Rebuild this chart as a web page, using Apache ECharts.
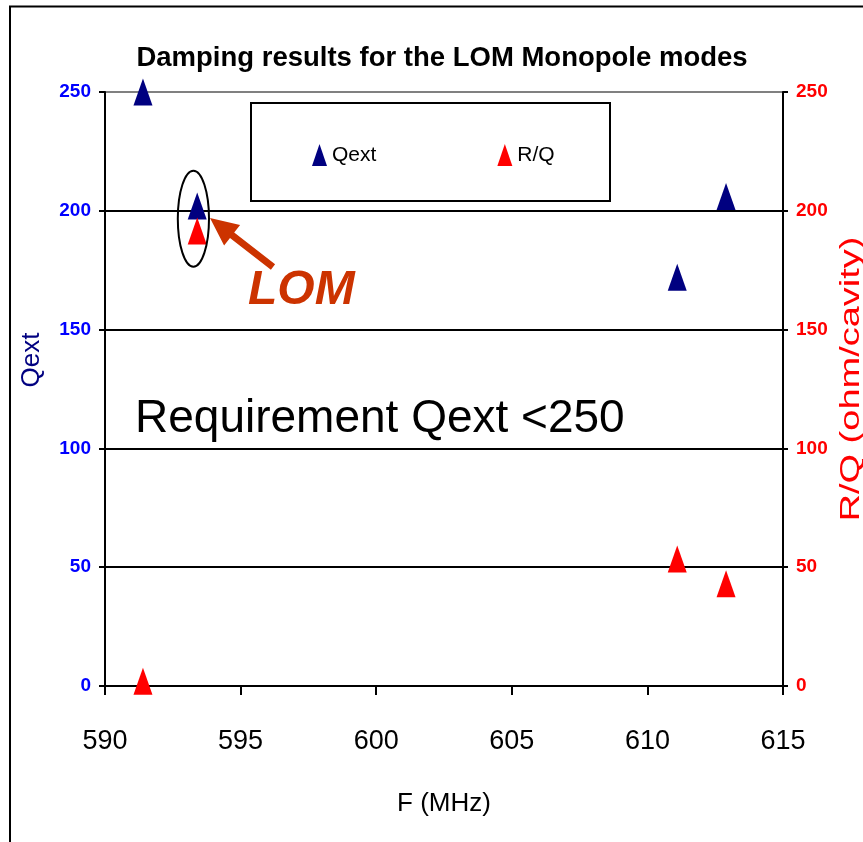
<!DOCTYPE html>
<html>
<head>
<meta charset="utf-8">
<script src="https://cdn.jsdelivr.net/npm/echarts@6/dist/echarts.min.js"></script>
<style>
html,body{margin:0;padding:0;background:#fff;}
#chart{width:863px;height:842px;}
</style>
</head>
<body>
<div id="chart"></div>
<script>
// Data
const freqQext = [591.4, 593.4, 611.1, 612.9];
const qextValues = [250, 202, 172, 206];
const freqRQ = [591.4, 593.4, 611.1, 612.9];
const rqValues = [2, 191.5, 53.4, 43];
const xTicks = [590, 595, 600, 605, 610, 615];
const yTicks = [0, 50, 100, 150, 200, 250];

const ARIAL = "'Liberation Sans',Arial,sans-serif";

const chart = echarts.init(document.getElementById('chart'), null, {renderer:'canvas'});

const option = {
  backgroundColor: '#fff',
  animation: false,
  grid: {left:105, right:80, top:92, bottom:156, containLabel:false, outerBoundsMode:'none'},
  legend: {
    data: [{name:'Qext'}, {name:'R/Q'}],
    left: 312, top: 144, padding: 0,
    itemWidth: 15, itemHeight: 22, itemGap: 121,
    icon: 'triangle',
    textStyle: {fontFamily: ARIAL, fontSize: 21, color:'#000'}
  },
  xAxis: {
    type:'value', min: xTicks[0], max: xTicks[xTicks.length-1], interval: 5,
    name: 'F (MHz)', nameLocation:'middle', nameGap: 105,
    nameTextStyle: {fontFamily: ARIAL, fontSize: 26, color:'#000'},
    axisLine: {show:true, onZero:false, lineStyle:{color:'#000', width:2}},
    axisTick: {show:true, length:9, lineStyle:{color:'#000', width:2}},
    axisLabel: {fontFamily: ARIAL, fontSize: 27, color:'#000', margin: 42},
    splitLine: {show:false}
  },
  yAxis: [
    {
      type:'value', min: yTicks[0], max: yTicks[yTicks.length-1], interval: 50, position:'left',
      name: 'Qext', nameLocation:'middle', nameGap: 60, nameRotate: 90,
      nameTextStyle: {fontFamily: ARIAL, fontSize: 26, color:'#000080', padding:[0,0,0,58]},
      axisLine: {show:true, lineStyle:{color:'#000', width:2}},
      axisTick: {show:true, length:6, lineStyle:{color:'#000', width:2}},
      axisLabel: {fontFamily: ARIAL, fontWeight:'bold', fontSize: 19, color:'#0000ff', margin: 14},
      splitLine: {show:true, lineStyle:{color:['#000','#000','#000','#000','#000','#808080'], width:2}}
    },
    {
      type:'value', min: yTicks[0], max: yTicks[yTicks.length-1], interval: 50, position:'right',
      axisLine: {show:true, lineStyle:{color:'#000', width:2}},
      axisTick: {show:true, length:5, lineStyle:{color:'#000', width:2}},
      axisLabel: {fontFamily: ARIAL, fontWeight:'bold', fontSize: 19, color:'#ff0000', margin: 13},
      splitLine: {show:false}
    }
  ],
  series: [
    {
      name:'Qext', type:'scatter', yAxisIndex:0, symbol:'triangle', symbolSize:[19,27],
      clip:false, itemStyle:{color:'#000080', opacity:1},
      data: freqQext.map((f,i)=>[f, qextValues[i]]), z: 5
    },
    {
      name:'R/Q', type:'scatter', yAxisIndex:1, symbol:'triangle', symbolSize:[19,27],
      clip:false, itemStyle:{color:'#ff0000', opacity:1},
      data: freqRQ.map((f,i)=>[f, rqValues[i]]), z: 5
    }
  ],
  graphic: [
    {type:'rect', shape:{x:10, y:6.5, width:900, height:900}, style:{fill:null, stroke:'#000', lineWidth:2}, z:-1, silent:true},
    {type:'text', x:442, y:58, style:{text:'Damping results for the LOM Monopole modes', font:"bold 27.5px "+ARIAL, fill:'#000', align:'center', verticalAlign:'middle'}},
    {type:'text', x:851, y:379, rotation:Math.PI/2, scaleY:0.72, style:{text:'R/Q (ohm/cavity)', font:"38px "+ARIAL, fill:'#ff0000', align:'center', verticalAlign:'middle'}},
    {type:'rect', shape:{x:251, y:103, width:359, height:98}, style:{fill:'#fff', stroke:'#000', lineWidth:2}, z:1},
    {type:'text', x:135, y:419, style:{text:'Requirement Qext <250', font:"46px "+ARIAL, fill:'#000', align:'left', verticalAlign:'middle'}, z:10},
    {type:'text', x:248, y:291, style:{text:'LOM', font:"italic bold 48px "+ARIAL, fill:'#cc3300', align:'left', verticalAlign:'middle'}, z:10},
    {type:'ellipse', shape:{cx:193.4, cy:218.7, rx:15.6, ry:48}, style:{fill:null, stroke:'#000', lineWidth:2}, z:10},
    {type:'polygon', shape:{points:[[275.1,264.2],[234.2,232.4],[240.1,224.9],[210,218],[224.1,245.4],[230.0,238.0],[270.9,269.8]]}, style:{fill:'#cc3300'}, z:10}
  ]
};
chart.setOption(option);
</script>
</body>
</html>
